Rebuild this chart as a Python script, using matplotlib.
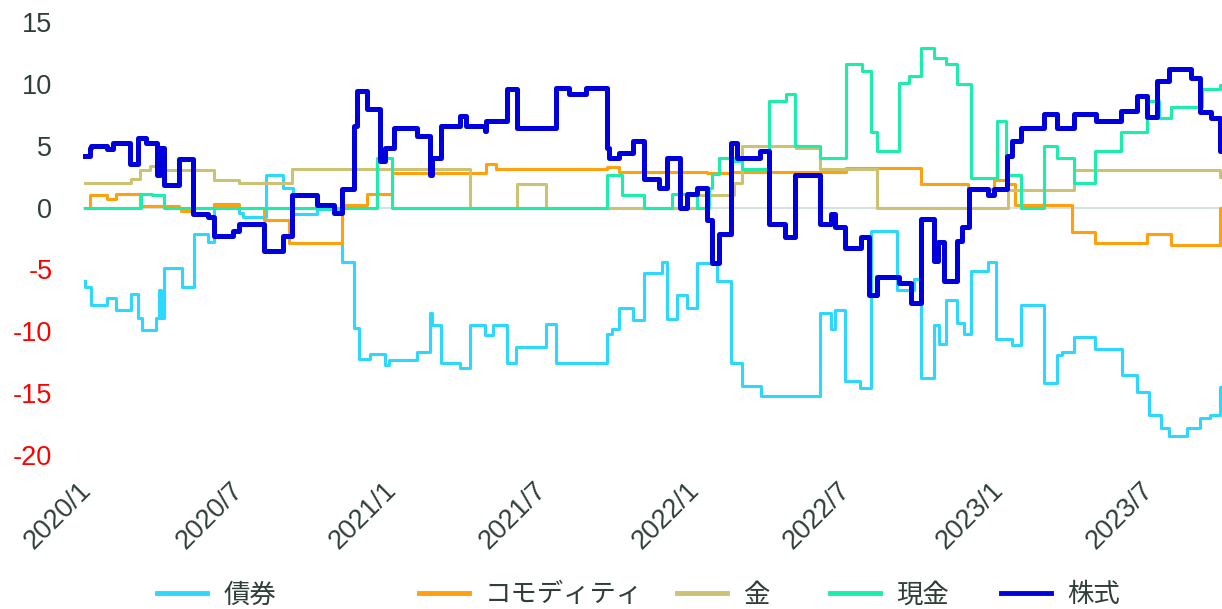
import matplotlib
matplotlib.use("Agg")
import matplotlib.pyplot as plt
import matplotlib.transforms as mtransforms
import pandas as pd

plt.rcParams["font.family"] = ["Liberation Sans", "DejaVu Sans"]
plt.rcParams["axes.unicode_minus"] = False

# breakpoints (date, value) of each series, held until the next date
bond_dates = ["2020-01-01", "2020-01-02", "2020-01-09", "2020-01-28", "2020-02-08", "2020-02-26",
              "2020-03-05", "2020-03-10", "2020-03-27", "2020-03-31", "2020-04-02", "2020-04-06",
              "2020-04-27", "2020-05-12", "2020-05-28", "2020-06-05", "2020-07-05", "2020-07-10",
              "2020-08-06", "2020-08-26", "2020-09-07", "2020-10-06", "2020-11-05", "2020-11-20",
              "2020-11-26", "2020-12-09", "2020-12-27", "2021-01-01", "2021-02-04", "2021-02-19",
              "2021-02-22", "2021-03-05", "2021-03-27", "2021-04-08", "2021-04-26", "2021-05-06",
              "2021-05-23", "2021-06-03", "2021-07-09", "2021-07-21", "2021-09-20", "2021-09-26",
              "2021-10-05", "2021-10-21", "2021-11-04", "2021-11-25", "2021-12-02", "2021-12-14",
              "2021-12-25", "2022-01-07", "2022-01-31", "2022-02-17", "2022-03-02", "2022-03-25",
              "2022-06-03", "2022-06-17", "2022-06-21", "2022-07-03", "2022-07-21", "2022-08-04",
              "2022-09-04", "2022-09-25", "2022-10-03", "2022-10-19", "2022-10-25", "2022-11-02",
              "2022-11-15", "2022-11-24", "2022-12-02", "2022-12-22", "2023-01-01", "2023-01-20",
              "2023-01-31", "2023-02-28", "2023-03-16", "2023-03-21", "2023-04-05", "2023-04-30",
              "2023-06-02", "2023-06-20", "2023-07-04", "2023-07-19", "2023-07-28", "2023-08-19",
              "2023-09-03", "2023-09-15", "2023-09-27", "2023-09-30"]
bond_vals = [-5.9, -6.4, -7.9, -7.3, -8.3, -7.0,
             -8.9, -9.9, -8.9, -6.7, -8.9, -4.9,
             -6.4, -2.1, -2.8, 0.3, -0.4, -0.8,
             2.6, 1.6, -0.5, -0.1, -4.4, -9.7,
             -12.2, -11.8, -12.7, -12.3, -11.7, -8.5,
             -9.5, -12.6, -13.0, -9.5, -10.3, -9.5,
             -12.6, -11.3, -9.4, -12.6, -10.2, -9.8,
             -8.1, -9.1, -5.3, -4.4, -9.0, -7.1,
             -8.1, -4.5, -5.9, -12.6, -14.4, -15.2,
             -8.5, -9.8, -8.3, -14.0, -14.6, -1.9,
             -6.7, -5.8, -13.8, -9.5, -11.0, -7.5,
             -9.3, -10.2, -5.1, -4.4, -10.6, -11.1,
             -7.9, -14.2, -11.9, -11.7, -10.5, -11.4,
             -13.5, -14.9, -16.8, -17.8, -18.5, -17.8,
             -17.0, -16.8, -14.5, -14.5]

cmdty_dates = ["2020-01-01", "2020-01-07", "2020-01-28", "2020-02-08", "2020-03-07", "2020-04-24",
               "2020-04-26", "2020-05-10", "2020-06-05", "2020-07-05", "2020-08-04", "2020-09-03",
               "2020-11-05", "2020-12-05", "2021-01-05", "2021-04-28", "2021-05-10", "2021-09-20",
               "2021-10-05", "2022-01-18", "2022-02-17", "2022-07-05", "2022-10-03", "2022-11-28",
               "2022-12-30", "2023-01-14", "2023-01-24", "2023-04-03", "2023-04-30", "2023-07-02",
               "2023-07-31", "2023-09-28", "2023-09-30"]
cmdty_vals = [0.0, 1.05, 0.7, 1.1, 0.1, 0.0,
              -0.3, 0.0, 0.2, 0.0, -1.0, -2.9,
              0.2, 1.1, 2.8, 3.5, 3.1, 3.3,
              2.9, 2.8, 2.9, 3.2, 1.9, 1.5,
              2.2, 1.9, 0.2, -2.0, -2.9, -2.1,
              -3.0, 0.0, 0.0]

gold_dates = ["2020-01-01", "2020-02-26", "2020-03-07", "2020-03-19", "2020-03-27", "2020-06-05",
              "2020-07-05", "2020-09-06", "2021-04-08", "2021-06-04", "2021-07-09", "2022-01-06",
              "2022-02-20", "2022-03-02", "2022-05-06", "2022-06-03", "2022-08-11", "2023-01-16",
              "2023-04-05", "2023-09-27", "2023-09-30"]
gold_vals = [2.0, 2.3, 3.0, 3.4, 3.0, 2.2,
             2.0, 3.1, 0.0, 1.9, 0.0, 1.0,
             2.0, 5.0, 4.8, 3.1, 0.0, 1.4,
             3.0, 2.5, 2.5]

cash_dates = ["2020-01-01", "2020-03-09", "2020-03-22", "2020-04-06", "2020-12-18", "2021-01-05",
              "2021-09-20", "2021-10-08", "2021-11-04", "2021-12-07", "2022-01-06", "2022-01-21",
              "2022-01-24", "2022-02-02", "2022-02-20", "2022-03-02", "2022-04-03", "2022-04-24",
              "2022-05-04", "2022-06-03", "2022-07-05", "2022-07-24", "2022-08-04", "2022-08-11",
              "2022-09-07", "2022-09-19", "2022-10-03", "2022-10-19", "2022-11-02", "2022-11-15",
              "2022-12-02", "2023-01-02", "2023-01-13", "2023-01-31", "2023-02-28", "2023-03-15",
              "2023-04-05", "2023-04-30", "2023-06-01", "2023-07-02", "2023-07-16", "2023-07-31",
              "2023-09-06", "2023-09-27", "2023-09-30"]
cash_vals = [0.0, 1.1, 1.0, 0.0, 4.0, 0.0,
             2.6, 1.0, 0.0, 1.1, 0.0, 1.6,
             2.7, 4.0, 3.8, 3.1, 8.6, 9.2,
             5.0, 4.0, 11.6, 11.0, 6.1, 4.6,
             10.1, 10.6, 12.9, 12.1, 11.6, 10.0,
             2.4, 7.0, 2.6, 0.0, 5.0, 4.0,
             2.0, 4.6, 6.1, 8.6, 7.2, 8.1,
             9.6, 9.9, 9.9]

stock_dates = ["2020-01-01", "2020-01-07", "2020-01-09", "2020-01-28", "2020-02-04", "2020-02-24",
               "2020-03-05", "2020-03-15", "2020-03-28", "2020-04-01", "2020-04-06", "2020-04-24",
               "2020-05-10", "2020-05-28", "2020-06-05", "2020-06-27", "2020-07-05", "2020-08-04",
               "2020-08-26", "2020-09-06", "2020-10-06", "2020-10-27", "2020-11-06", "2020-11-20",
               "2020-11-24", "2020-12-06", "2020-12-21", "2020-12-27", "2021-01-07", "2021-02-04",
               "2021-02-19", "2021-02-22", "2021-03-05", "2021-03-27", "2021-04-04", "2021-04-26",
               "2021-04-28", "2021-05-23", "2021-06-04", "2021-07-21", "2021-08-06", "2021-08-26",
               "2021-09-20", "2021-09-23", "2021-10-05", "2021-10-21", "2021-11-04", "2021-11-22",
               "2021-12-02", "2021-12-17", "2021-12-25", "2022-01-06", "2022-01-18", "2022-01-24",
               "2022-02-02", "2022-02-17", "2022-02-24", "2022-03-23", "2022-04-03", "2022-04-22",
               "2022-05-04", "2022-06-03", "2022-06-17", "2022-06-21", "2022-07-03", "2022-07-23",
               "2022-08-02", "2022-08-11", "2022-09-07", "2022-09-21", "2022-10-03", "2022-10-19",
               "2022-10-23", "2022-10-31", "2022-11-15", "2022-11-21", "2022-11-30", "2022-12-22",
               "2022-12-30", "2023-01-14", "2023-01-20", "2023-01-31", "2023-02-28", "2023-03-16",
               "2023-04-05", "2023-05-02", "2023-06-01", "2023-06-20", "2023-07-02", "2023-07-14",
               "2023-07-28", "2023-08-24", "2023-09-03", "2023-09-17", "2023-09-27", "2023-09-30"]
stock_vals = [4.2, 4.8, 5.0, 4.7, 5.2, 3.5,
              5.6, 5.2, 2.6, 4.8, 1.8, 3.9,
              -0.5, -0.8, -2.3, -1.9, -1.3, -3.5,
              -2.3, 1.0, 0.2, -0.4, 1.5, 6.6,
              9.4, 8.0, 3.8, 4.8, 6.4, 5.8,
              2.6, 4.0, 6.6, 7.4, 6.6, 6.2,
              7.0, 9.6, 6.4, 9.7, 9.2, 9.7,
              4.8, 4.0, 4.4, 5.4, 2.3, 1.6,
              4.0, 0.0, 1.1, 1.6, -1.0, -4.5,
              -2.1, 5.2, 4.0, 4.6, -1.3, -2.4,
              2.6, -1.3, -0.5, -1.6, -3.3, -2.4,
              -7.1, -5.6, -6.1, -7.7, -0.9, -4.3,
              -2.8, -5.9, -2.7, -1.6, 1.5, 1.0,
              1.5, 4.2, 5.4, 6.4, 7.6, 6.4,
              7.6, 7.0, 7.8, 9.0, 7.3, 10.2,
              11.2, 10.5, 7.7, 7.2, 4.6, 4.6]

labels = ["債券", "コモディティ", "金", "現金", "株式"]
colors = ["#2DD8FF", "#FFA00F", "#CDC272", "#1BEDAA", "#0000DD"]
widths = [2.2, 2.2, 2.2, 2.2, 3.6]
series = [(bond_dates, bond_vals), (cmdty_dates, cmdty_vals), (gold_dates, gold_vals),
          (cash_dates, cash_vals), (stock_dates, stock_vals)]

tick_dates = ["2020-01-01", "2020-07-01", "2021-01-01", "2021-07-01",
              "2022-01-01", "2022-07-01", "2023-01-01", "2023-07-01"]
tick_labels = ["2020/1", "2020/7", "2021/1", "2021/7", "2022/1", "2022/7", "2023/1", "2023/7"]

fig = plt.figure(figsize=(12.22, 6.09), dpi=100)
ax = fig.add_axes([83 / 1222, 1 - 455 / 609, 1 - 83 / 1222, (455 - 22) / 609])

ax.axhline(0, color="#D5E2DE", lw=1.5, zorder=1)
lines = []
for (d, v), lab, c, w in zip(series, labels, colors, widths):
    ln, = ax.step(pd.to_datetime(d), v, where="post", color=c, lw=w, label=lab, zorder=2)
    lines.append(ln)

ax.set_ylim(-20, 15)
ax.set_yticks(range(-20, 16, 5))
ax.set_xlim(pd.Timestamp("2019-12-30"), pd.Timestamp("2023-09-30"))
ax.set_xticks(pd.to_datetime(tick_dates))
ax.set_xticklabels(tick_labels, rotation=45, ha="right", va="top", rotation_mode="anchor")

for s in ax.spines.values():
    s.set_visible(False)
ax.tick_params(axis="y", length=0, pad=22, labelsize=19.5, labelcolor="#2F3E36")
ax.tick_params(axis="x", length=0, pad=16, labelsize=19.5, labelcolor="#2F3E36")
for t, val in zip(ax.get_yticklabels(), ax.get_yticks()):
    if val < 0:
        t.set_color("#FF0000")
shift = mtransforms.ScaledTranslation(-6 / 100, 0, fig.dpi_scale_trans)
for t in ax.get_xticklabels():
    t.set_transform(t.get_transform() + shift)

# legend entries placed one by one along the bottom
leg_x = [144, 406, 664, 817, 988]
for ln, lab, x in zip(lines, labels, leg_x):
    lg = fig.legend([ln], [lab], loc="center left", bbox_to_anchor=(x / 1222, 1 - 595 / 609),
                    frameon=False, handlelength=1.9, handletextpad=0.6, borderpad=0,
                    prop={"family": ["Noto Sans CJK JP", "DejaVu Sans"], "size": 19})
    for t in lg.get_texts():
        t.set_color("#2F3E36")
    for h in lg.get_lines():
        h.set_linewidth(3.5)

fig.savefig("out.png", dpi=100)
